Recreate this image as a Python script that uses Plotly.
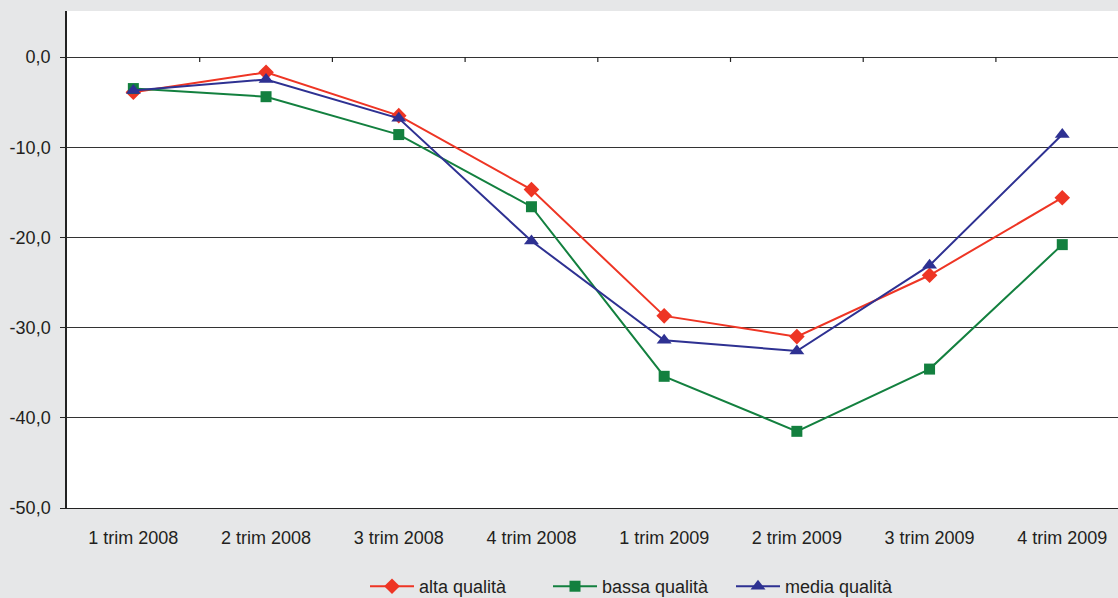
import plotly.graph_objects as go

categories = ["1 trim 2008", "2 trim 2008", "3 trim 2008", "4 trim 2008",
              "1 trim 2009", "2 trim 2009", "3 trim 2009", "4 trim 2009"]
alta = [-3.9, -1.7, -6.5, -14.7, -28.7, -31.0, -24.2, -15.6]
bassa = [-3.5, -4.4, -8.6, -16.6, -35.4, -41.5, -34.6, -20.8]
media = [-3.7, -2.5, -6.8, -20.4, -31.4, -32.6, -23.1, -8.6]
y_tick_values = [0, -10, -20, -30, -40, -50]
y_tick_labels = ["0,0", "-10,0", "-20,0", "-30,0", "-40,0", "-50,0"]

series = [
    ("alta qualità", alta, "#ee3524", "diamond", 12),
    ("bassa qualità", bassa, "#13803f", "square", 11),
    ("media qualità", media, "#2e3192", "triangle-up", 13),
]

fig = go.Figure()
xs = list(range(len(categories)))
for name, vals, color, sym, size in series:
    fig.add_trace(go.Scatter(
        x=xs, y=vals, name=name, mode="lines+markers",
        line=dict(color=color, width=2),
        marker=dict(symbol=sym, size=size, color=color),
    ))

# category-axis tick marks on the zero line
for i in range(len(categories) - 1):
    fig.add_shape(type="line", xref="x", yref="y", x0=i + 0.5, x1=i + 0.5,
                  y0=0, y1=-0.55, line=dict(color="#222222", width=1.2))

fig.update_layout(
    width=1118, height=598,
    paper_bgcolor="#e6e7e8", plot_bgcolor="#ffffff",
    margin=dict(l=67, r=0, t=11, b=90, autoexpand=False),
    font=dict(family="Liberation Sans, Arial, sans-serif", size=18, color="#231f20"),
    showlegend=True,
    legend=dict(orientation="h", xanchor="left", x=(365 - 67) / 1051, yanchor="middle", y=-0.158,
                bgcolor="rgba(0,0,0,0)", font=dict(size=18), itemwidth=44,
                entrywidth=124, tracegroupgap=0),
    xaxis=dict(
        tickmode="array", tickvals=xs, ticktext=categories,
        range=[-0.5, 7.42], showgrid=False, zeroline=False,
        showline=True, linecolor="#222222", linewidth=1.2,
        ticks="", ticklabelstandoff=13, automargin=False,
        tickfont=dict(size=18),
    ),
    yaxis=dict(
        range=[-50, 5.1], tickmode="array", tickvals=y_tick_values, ticktext=y_tick_labels,
        showgrid=True, gridcolor="#333333", gridwidth=1,
        zeroline=False, showline=True, linecolor="#222222", linewidth=1.5,
        ticks="outside", ticklen=5, tickcolor="#222222", automargin=False,
        ticklabelstandoff=6, tickfont=dict(size=18),
    ),
)

fig.write_html(
    "out.html",
    config={"displayModeBar": False},
    post_script="document.body.style.margin='0';document.body.style.overflow='hidden';",
)
